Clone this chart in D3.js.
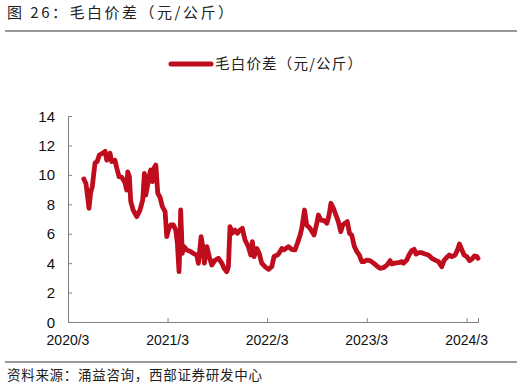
<html>
<head>
<meta charset="utf-8">
<title>毛白价差</title>
<style>
  body { margin: 0; background: #fff; }
  svg text { font-family: "Liberation Sans", Arial, sans-serif; }
  .cjk { font-family: "Noto Sans CJK SC", sans-serif; }
</style>
</head>
<body>
<svg id="svg" width="527" height="392"></svg>
<script src="https://d3js.org/d3.v7.min.js"></script>
<script>
const seriesName = "毛白价差（元/公斤）";
const dates = [
  "2020-04-28","2020-05-06","2020-05-17","2020-05-23","2020-05-29","2020-06-08","2020-06-16","2020-06-24",
  "2020-07-08","2020-07-15","2020-07-21","2020-08-02","2020-08-08","2020-08-20","2020-08-27","2020-09-04",
  "2020-09-14","2020-09-26","2020-10-02","2020-10-06","2020-10-12","2020-10-17","2020-10-26","2020-11-08",
  "2020-11-20","2020-11-30","2020-12-06","2020-12-11","2020-12-17","2020-12-23","2020-12-29","2021-01-04",
  "2021-01-10","2021-01-17","2021-01-24","2021-02-01","2021-02-10","2021-02-20","2021-02-26","2021-03-06",
  "2021-03-13","2021-03-22","2021-03-31","2021-04-06","2021-04-12","2021-04-16","2021-04-18","2021-04-24",
  "2021-04-30","2021-05-10","2021-05-25","2021-06-03","2021-06-16","2021-06-22","2021-07-02","2021-07-08",
  "2021-07-14","2021-07-23","2021-08-01","2021-08-10","2021-08-22","2021-09-03","2021-09-16","2021-09-24",
  "2021-10-04","2021-10-10","2021-10-16","2021-10-24","2021-11-03","2021-11-12","2021-11-22","2021-11-30",
  "2021-12-10","2021-12-22","2021-12-31","2022-01-06","2022-01-12","2022-01-22","2022-01-31","2022-02-09",
  "2022-02-21","2022-03-06","2022-03-18","2022-03-26","2022-04-11","2022-04-24","2022-05-02","2022-05-18",
  "2022-05-30","2022-06-11","2022-06-20","2022-06-30","2022-07-06","2022-07-16","2022-07-24","2022-08-05",
  "2022-08-20","2022-08-30","2022-09-05","2022-09-14","2022-09-26","2022-10-06","2022-10-14","2022-10-21",
  "2022-10-30","2022-11-08","2022-11-17","2022-11-26","2022-12-03","2022-12-12","2022-12-20","2022-12-28",
  "2023-01-05","2023-01-15","2023-01-24","2023-02-02","2023-02-11","2023-02-19","2023-03-01","2023-03-13",
  "2023-03-26","2023-04-07","2023-04-19","2023-05-01","2023-05-14","2023-05-26","2023-06-01","2023-06-13",
  "2023-06-25","2023-07-08","2023-07-14","2023-07-26","2023-08-03","2023-08-13","2023-08-22","2023-08-29",
  "2023-09-07","2023-09-19","2023-10-01","2023-10-13","2023-10-26","2023-11-07","2023-11-19","2023-12-01",
  "2023-12-10","2023-12-20","2023-12-29","2024-01-07","2024-01-19","2024-01-28","2024-02-04","2024-02-13",
  "2024-02-21","2024-03-02","2024-03-12","2024-03-20","2024-03-30","2024-04-08","2024-04-12"
];
const spread = [
  9.72,9.40,7.73,8.80,9.20,10.80,10.90,11.35,
  11.50,11.60,11.00,11.47,10.90,11.00,10.45,9.88,
  9.84,9.47,8.97,10.20,9.88,8.18,7.60,7.16,
  7.60,8.30,10.10,8.63,9.20,9.88,10.33,9.54,
  10.45,10.67,8.75,8.50,7.84,7.50,5.80,6.37,
  6.60,6.60,6.25,5.35,3.42,5.80,7.61,4.67,
  5.12,4.90,4.78,4.67,4.55,3.99,5.80,5.12,
  4.00,5.12,4.44,3.87,4.20,4.33,4.00,3.65,
  3.42,3.76,6.48,6.03,6.25,6.03,6.25,6.37,
  5.57,5.12,4.55,5.46,4.44,5.00,4.67,4.00,
  3.76,3.58,3.76,4.44,4.60,5.00,4.90,5.12,
  4.94,4.90,5.35,5.91,6.37,7.61,6.59,6.37,
  5.91,6.71,7.27,6.93,6.89,6.71,7.27,8.07,
  7.73,7.27,6.82,6.14,6.59,6.71,6.82,6.03,
  5.91,5.12,4.78,4.55,4.10,4.10,4.21,4.17,
  4.00,3.81,3.65,3.69,3.87,4.17,3.94,4.00,
  4.03,4.10,4.00,4.21,4.55,4.85,4.94,4.62,
  4.71,4.71,4.62,4.55,4.33,4.21,4.10,3.76,
  4.21,4.40,4.55,4.44,4.55,4.90,5.30,4.90,
  4.55,4.44,4.17,4.26,4.49,4.44,4.33
];
const yTicks = [0, 2, 4, 6, 8, 10, 12, 14];
const xTickDates = ["2020-03-01","2021-03-01","2022-03-01","2023-03-01","2024-03-01"];
const xTickLabels = ["2020/3","2021/3","2022/3","2023/3","2024/3"];

const parse = d3.timeParse("%Y-%m-%d");
const data = dates.map((d, i) => ({date: parse(d), value: spread[i]}));

const svg = d3.select("#svg");
const plotLeft = 68, plotRight = 478, plotTop = 116, plotBottom = 322;
const red = "#c00d1e", axisGray = "#808080";

const x = d3.scaleTime()
  .domain([parse("2020-03-01"), parse("2024-04-12")])
  .range([plotLeft, plotRight]);
const y = d3.scaleLinear().domain([0, 14]).range([plotBottom, plotTop]);

// title and rules
svg.append("text").attr("class", "cjk")
  .attr("x", 7).attr("y", 18)
  .attr("font-size", 15).attr("fill", "#222")
  .attr("letter-spacing", 2.5)
  .text("图 26：毛白价差（元/公斤）");
svg.append("line").attr("x1", 5).attr("x2", 517).attr("y1", 31).attr("y2", 31)
  .attr("stroke", "#333").attr("stroke-width", 1);
svg.append("line").attr("x1", 5).attr("x2", 517).attr("y1", 362).attr("y2", 362)
  .attr("stroke", "#333").attr("stroke-width", 1);
svg.append("text").attr("class", "cjk")
  .attr("x", 7).attr("y", 380)
  .attr("font-size", 13.5).attr("fill", "#222")
  .attr("letter-spacing", 0.7)
  .text("资料来源：涌益咨询，西部证券研发中心");

// legend
svg.append("line").attr("x1", 171).attr("x2", 211).attr("y1", 64).attr("y2", 64)
  .attr("stroke", red).attr("stroke-width", 5).attr("stroke-linecap", "round");
svg.append("text").attr("class", "cjk")
  .attr("x", 215).attr("y", 69)
  .attr("font-size", 14.5).attr("fill", "#222")
  .attr("letter-spacing", 1.2)
  .text(seriesName);

// axes
const yAxis = d3.axisRight(y).tickValues(yTicks).tickSize(4).tickFormat("");
svg.append("g").attr("transform", `translate(${plotLeft},0)`).call(yAxis)
  .call(g => g.select(".domain").attr("stroke", axisGray))
  .call(g => g.selectAll(".tick line").attr("stroke", axisGray));
svg.append("g").selectAll("text").data(yTicks).join("text")
  .attr("x", 55).attr("y", d => y(d) + 5.5)
  .attr("text-anchor", "end").attr("font-size", 15).attr("fill", "#111")
  .text(d => d);

const xAxis = d3.axisTop(x).tickValues(xTickDates.map(parse)).tickSize(4).tickFormat("");
svg.append("g").attr("transform", `translate(0,${plotBottom})`).call(xAxis)
  .call(g => g.select(".domain").attr("stroke", axisGray))
  .call(g => g.selectAll(".tick line").attr("stroke", axisGray));
svg.append("g").selectAll("text").data(xTickDates).join("text")
  .attr("x", d => x(parse(d))).attr("y", 345)
  .attr("text-anchor", "middle").attr("font-size", 14).attr("fill", "#111")
  .text((d, i) => xTickLabels[i]);

// series
const line = d3.line().x(d => x(d.date)).y(d => y(d.value));
svg.append("path").datum(data)
  .attr("d", line)
  .attr("fill", "none")
  .attr("stroke", red)
  .attr("stroke-width", 4.8)
  .attr("stroke-linejoin", "round")
  .attr("stroke-linecap", "round");
</script>
</body>
</html>
